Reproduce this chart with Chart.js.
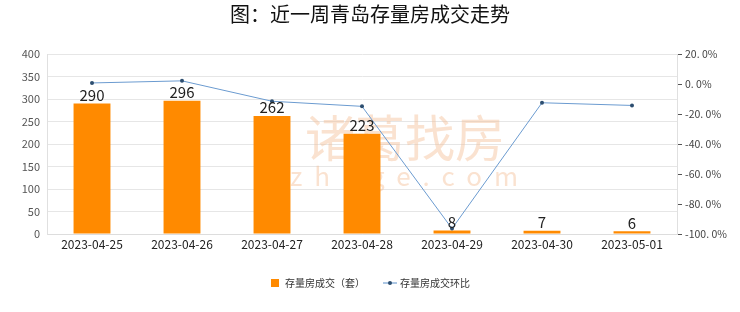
<!DOCTYPE html>
<html>
<head>
<meta charset="utf-8">
<script src="https://cdn.jsdelivr.net/npm/chart.js@4"></script>
<style>
  html, body { margin: 0; padding: 0; background: #fff; }
  #wrap { width: 740px; height: 312px; }
</style>
</head>
<body>
<div id="wrap"><canvas id="myChart" width="740" height="312"></canvas></div>
<script>
const dates = ['2023-04-25', '2023-04-26', '2023-04-27', '2023-04-28', '2023-04-29', '2023-04-30', '2023-05-01'];
const deals = [290, 296, 262, 223, 8, 7, 6];
const changePct = [0.7, 2.1, -11.5, -14.9, -96.4, -12.5, -14.3];
const leftTicks = [0, 50, 100, 150, 200, 250, 300, 350, 400];
const rightTicks = [-100, -80, -60, -40, -20, 0, 20];

const FONT = '"Noto Sans CJK SC", "Noto Sans", sans-serif';

// small icon for the line series legend
function lineIcon() {
    const c = document.createElement('canvas');
    c.width = 14; c.height = 8;
    const g = c.getContext('2d');
    g.strokeStyle = '#5b8fc9';
    g.lineWidth = 1;
    g.beginPath(); g.moveTo(0, 4); g.lineTo(14, 4); g.stroke();
    g.fillStyle = '#2d4e70';
    g.beginPath(); g.arc(7, 4, 2, 0, Math.PI * 2); g.fill();
    return c;
}

function boxIcon() {
    const c = document.createElement('canvas');
    c.width = 8; c.height = 8;
    const g = c.getContext('2d');
    g.fillStyle = '#ff8a00';
    g.fillRect(0, 0, 8, 8);
    return c;
}

const watermark = {
    id: 'watermark',
    beforeDatasetsDraw(chart) {
        const ctx = chart.ctx;
        ctx.save();
        ctx.fillStyle = 'rgba(245, 190, 150, 0.45)';
        ctx.textAlign = 'center';
        ctx.textBaseline = 'middle';
        ctx.font = '50px ' + FONT;
        ctx.fillText('诸葛找房', 405, 138);
        ctx.font = '26px ' + FONT;
        ctx.letterSpacing = '12px';
        ctx.fillText('zhuge.com', 410, 176);
        ctx.restore();
    }
};

const barLabels = {
    id: 'barLabels',
    afterDatasetsDraw(chart) {
        const ctx = chart.ctx;
        const meta = chart.getDatasetMeta(0);
        ctx.save();
        ctx.fillStyle = '#222';
        ctx.font = '15px ' + FONT;
        ctx.textAlign = 'center';
        ctx.textBaseline = 'bottom';
        meta.data.forEach((bar, i) => {
            ctx.fillText(String(deals[i]), bar.x, bar.y - 1);
        });
        ctx.restore();
    }
};

window.onload = function () {
    const ctx = document.getElementById('myChart').getContext('2d');

    new Chart(ctx, {
        type: 'bar',
        data: {
            labels: dates,
            datasets: [{
                type: 'bar',
                label: '存量房成交（套）',
                data: deals,
                backgroundColor: '#ff8a00',
                barPercentage: 0.41,
                categoryPercentage: 1,
                yAxisID: 'y',
                order: 2
            }, {
                type: 'line',
                label: '存量房成交环比',
                data: changePct,
                borderColor: '#6b9bd0',
                borderWidth: 1,
                pointRadius: 2,
                pointBackgroundColor: '#2d4e70',
                pointBorderColor: '#2d4e70',
                pointBorderWidth: 0,
                tension: 0,
                yAxisID: 'y1',
                order: 1
            }]
        },
        options: {
            responsive: false,
            animation: false,
            layout: { padding: { left: 0, right: 0, top: 0, bottom: 14 } },
            plugins: {
                title: {
                    display: true,
                    text: '图：近一周青岛存量房成交走势',
                    color: '#111',
                    font: { family: FONT, size: 20, weight: 'normal' },
                    padding: { top: 2, bottom: 28 }
                },
                legend: {
                    position: 'bottom',
                    labels: {
                        color: '#333',
                        font: { family: FONT, size: 10 },
                        usePointStyle: true,
                        padding: 20,
                        generateLabels(chart) {
                            return [
                                { text: '存量房成交（套）', pointStyle: boxIcon(), datasetIndex: 0, fontColor: '#333' },
                                { text: '存量房成交环比', pointStyle: lineIcon(), datasetIndex: 1, fontColor: '#333' }
                            ];
                        }
                    }
                },
                tooltip: { enabled: false }
            },
            scales: {
                x: {
                    grid: { display: false, drawTicks: false },
                    border: { color: '#ddd' },
                    afterFit(axis) { axis.height = 24; },
                    ticks: { color: '#222', font: { family: FONT, size: 12 }, padding: 3, maxRotation: 0 }
                },
                y: {
                    position: 'left',
                    min: 0,
                    max: 400,
                    afterBuildTicks(axis) {
                        axis.ticks = leftTicks.map(v => ({ value: v }));
                    },
                    afterFit(axis) { axis.width = 47; },
                    grid: { color: '#e6e6e6', drawTicks: false },
                    border: { color: '#e0e0e0' },
                    ticks: { color: '#555', font: { family: FONT, size: 11 }, padding: 7 }
                },
                y1: {
                    position: 'right',
                    min: -100,
                    max: 20,
                    afterBuildTicks(axis) {
                        const t = [];
                        for (let v = -100; v <= 20; v += 10) t.push({ value: v });
                        axis.ticks = t;
                    },
                    afterFit(axis) { axis.width = 63; },
                    grid: { drawOnChartArea: false, drawTicks: true, tickLength: 5, color: '#555', tickColor: '#555' },
                    border: { color: '#e0e0e0' },
                    ticks: {
                        color: '#444',
                        font: { family: FONT, size: 10.5 },
                        padding: 3,
                        callback(v) {
                            return rightTicks.includes(v) ? v.toFixed(1).replace('.', '. ') + '%' : '';
                        }
                    }
                }
            }
        },
        plugins: [watermark, barLabels]
    });
};
</script>
</body>
</html>
